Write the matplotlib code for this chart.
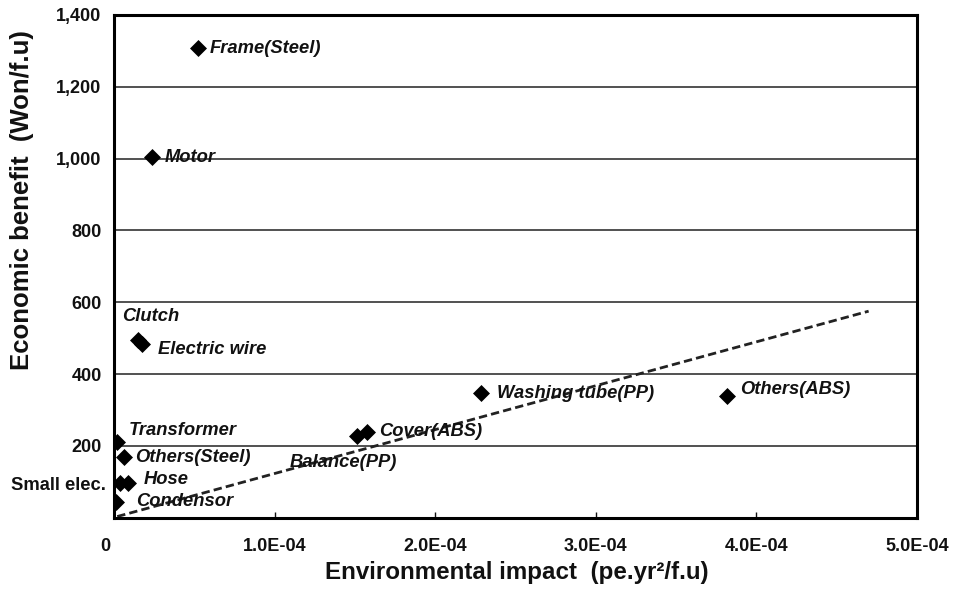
import matplotlib
matplotlib.use("Agg")
import matplotlib.pyplot as plt
import matplotlib.transforms as mtransforms
from matplotlib.ticker import FuncFormatter

plt.rcParams["font.family"] = ["Liberation Sans", "DejaVu Sans"]

# Parts of the washing machine: environmental impact vs. economic benefit
parts = ["Frame(Steel)", "Motor", "Clutch", "Electric wire", "Washing tube(PP)",
         "Others(ABS)", "Cover(ABS)", "Balance(PP)", "Transformer", "Others(Steel)",
         "Hose", "Small elec.", "Condensor"]
impact = [0.52e-4, 0.235e-4, 0.15e-4, 0.175e-4, 2.285e-4,
          3.82e-4, 1.577e-4, 1.515e-4, 0.017e-4, 0.062e-4,
          0.089e-4, 0.037e-4, 0.012e-4]
benefit = [1308, 1004, 494, 484, 347,
           339, 239, 228, 211, 168,
           97, 97, 44]

# Dashed trend line end points
trend_x = [0.02e-4, 4.70e-4]
trend_y = [3, 575]

x_ticks = [0, 1e-4, 2e-4, 3e-4, 4e-4, 5e-4]
x_tick_labels = ["0", "1.0E-04", "2.0E-04", "3.0E-04", "4.0E-04", "5.0E-04"]
y_ticks = [200, 400, 600, 800, 1000, 1200, 1400]

# Label placement (offset in pixels, alignment, italic)
label_style = {
    "Frame(Steel)": (12, 0, "left", True),
    "Motor": (13, 0, "left", True),
    "Clutch": (-16, 24, "left", True),
    "Electric wire": (16, -6, "left", True),
    "Washing tube(PP)": (16, 0, "left", True),
    "Others(ABS)": (13, 6, "left", True),
    "Cover(ABS)": (12, 0, "left", True),
    "Balance(PP)": (-68, -27, "left", True),
    "Transformer": (12, 11, "left", True),
    "Others(Steel)": (11, 0, "left", True),
    "Hose": (15, 3, "left", True),
    "Small elec.": (-14, -3, "right", False),
    "Condensor": (20, 0, "left", True),
}

dpi = 100
fig = plt.figure(figsize=(9.55, 5.9), dpi=dpi)
ax = fig.add_axes([0.1194, 0.1227, 0.8406, 0.8519])

ax.set_xlim(0, 5e-4)
ax.set_ylim(0, 1400)

for y in y_ticks[:-1]:
    ax.axhline(y, color="#333333", lw=1.2, zorder=1)

ax.plot(trend_x, trend_y, ls=(0, (3, 1.5)), color="#222222", lw=2.0, zorder=2)
ax.scatter(impact, benefit, marker="D", s=75, color="black", zorder=3, linewidths=0)

px2pt = 72.0 / dpi
for name, xv, yv in zip(parts, impact, benefit):
    dx, dy, ha, italic = label_style[name]
    ax.annotate(name, (xv, yv), xytext=(dx * px2pt, dy * px2pt),
                textcoords="offset points", ha=ha, va="center",
                fontsize=13.2, fontweight="bold",
                fontstyle="italic" if italic else "normal",
                color="#111111", annotation_clip=False, zorder=4)

ax.set_xticks(x_ticks)
ax.set_xticklabels(x_tick_labels)
ax.set_yticks(y_ticks)
ax.yaxis.set_major_formatter(FuncFormatter(lambda v, p: f"{int(v):,}"))

ax.tick_params(axis="x", direction="in", length=4, width=1, pad=15,
               labelsize=13, colors="#111111")
ax.tick_params(axis="y", length=0, pad=9, labelsize=13, colors="#111111")
for lab in ax.get_xticklabels() + ax.get_yticklabels():
    lab.set_fontweight("bold")

# Nudge the origin label slightly left of the corner
zero_lab = ax.get_xticklabels()[0]
zero_lab.set_transform(zero_lab.get_transform()
                       + mtransforms.ScaledTranslation(-9 / dpi, 0, fig.dpi_scale_trans))

for s in ax.spines.values():
    s.set_linewidth(2.2)
    s.set_color("black")

fig.text(517 / 955, 1 - 572 / 590, "Environmental impact  (pe.yr²/f.u)",
         fontsize=17.4, fontweight="bold", color="#111111", ha="center", va="center")
fig.text(22 / 955, 1 - 200 / 590, "Economic benefit  (Won/f.u)",
         fontsize=18.5, fontweight="bold", color="#111111", ha="center", va="center",
         rotation=90)

fig.savefig("out.png", dpi=dpi)
